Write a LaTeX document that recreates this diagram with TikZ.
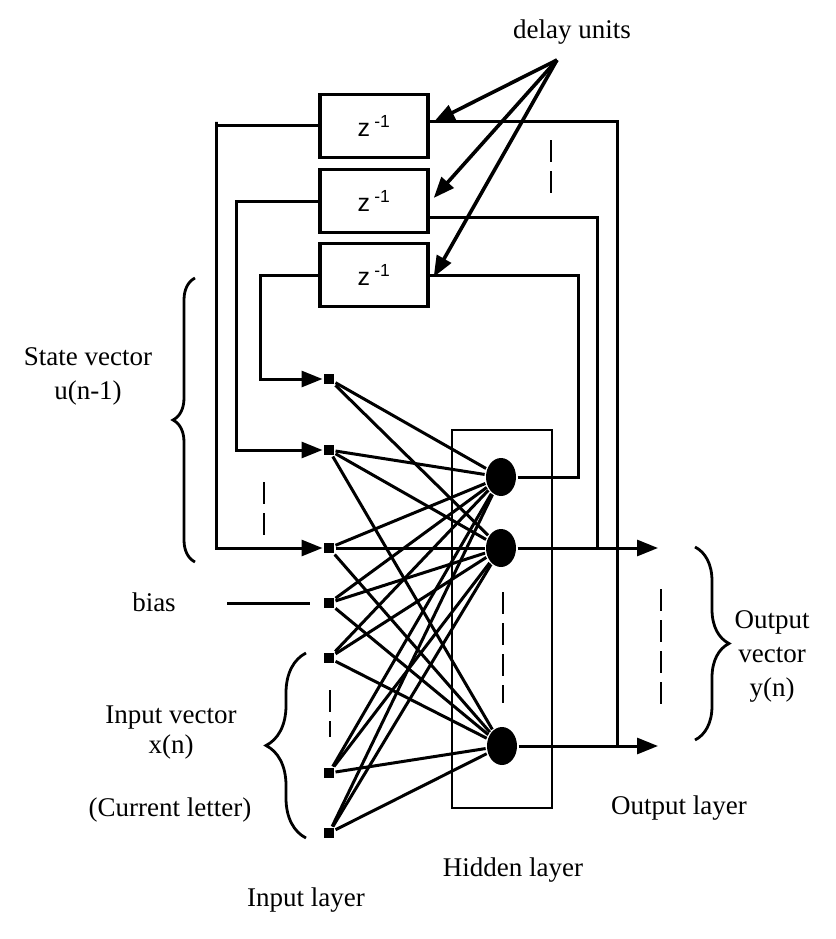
\documentclass[tikz,border=0pt]{standalone}
\usepackage{fontspec}
\setmainfont{Liberation Serif}
\setsansfont{Liberation Sans}
\usetikzlibrary{positioning,shapes.geometric,arrows.meta,decorations.pathreplacing}

\begin{document}
\begin{tikzpicture}[x=1pt,y=-1pt,line width=3pt,
  font=\fontsize{27}{34}\selectfont,
  delaybox/.style={draw,line width=3.4pt,minimum width=108pt,minimum height=63pt,
    inner sep=0pt,font=\sffamily\fontsize{25}{25}\selectfont},
  inp/.style={fill,rectangle,minimum size=10pt,inner sep=0pt},
  hid/.style={fill,ellipse,minimum width=30pt,minimum height=38pt,inner sep=0pt},
  arr/.style={-{Triangle[length=21pt,width=16pt]}},
  dashmark/.style={line width=2.4pt,dash pattern=on 22pt off 9pt},
  brc/.style={decorate,decoration={brace,amplitude=#1},line width=2.8pt}]
  \useasboundingbox (0,0) rectangle (835,939);

  \node[delaybox] (d1) at (374,126) {z\,\textsuperscript{-1}};
  \node[delaybox] (d2) at (374,201) {z\,\textsuperscript{-1}};
  \node[delaybox] (d3) at (374,275) {z\,\textsuperscript{-1}};

  \foreach \y [count=\i] in {379,450,548,603,658,773,833}
    \node[inp] (in\i) at (329,\y) {};
  \node[hid] (h1) at (501,477) {};
  \node[hid] (h2) at (501,548) {};
  \node[hid] (h3) at (502,746) {};
  \node[draw,line width=2.4pt,minimum width=100pt,minimum height=378pt] (hbox) at (502,619) {};

  \draw (in1) -- (h1);
  \draw (in1) -- (h2);
  \foreach \i in {2,...,7}
    \foreach \j in {1,2,3}
      \draw (in\i) -- (h\j);

  \node (du) at (572,32) {delay units};
  \coordinate (dl) at (557,60);
  \draw[arr,line width=3.6pt] (dl) -- ([xshift=4pt,yshift=4pt]d1.east);
  \draw[arr,line width=3.6pt] (dl) -- ([xshift=4pt,yshift=3pt]d2.east);
  \draw[arr,line width=3.6pt] (dl) -- ([xshift=4pt,yshift=-2pt]d3.east);

  \coordinate (o2) at (658,548);
  \coordinate (o3) at (658,746);
  \draw[arr] (h2) -- (o2);
  \draw[arr] (h3) -- (o3);

  \coordinate (c1) at (617,122);
  \coordinate (c2) at (597,217);
  \coordinate (c3) at (578,477);
  \draw (d1.east |- c1) -- (c1) -- (c1 |- o3);
  \draw (d2.east |- c2) -- (c2) -- (c2 |- o2);
  \draw (h1) -| (c3) |- (d3.east);

  \coordinate (s1) at (216,122);
  \coordinate (s2) at (236,450);
  \coordinate (s3) at (260,379);
  \draw[arr] (d1.west) -| (s1) |- (in3);
  \draw[arr] (d2.west) -| (s2) -- (in2);
  \draw[arr] (d3.west) -| (s3) -- (in1);

  \node (bi) at (154,602) {bias};
  \coordinate (bl) at (227,603);
  \draw[shorten >=13pt] (bl) -- (in4);

  \draw[dashmark] (551,140) -- (551,198);
  \draw[dashmark] (264,482) -- (264,537);
  \draw[dashmark] (503,592) -- (503,703);
  \draw[dashmark] (330,690) -- (330,737);
  \draw[dashmark] (661,589) -- (661,710);

  \draw[brc=22pt] (195,562) -- (195,278);
  \draw[brc=40pt] (306,838) -- (306,653);
  \draw[brc=34pt] (695,547) -- (695,740);

  \node[align=center] (sv) at (88,376) {State vector\\u(n-1)};
  \node[align=center] (iv) at (171,733) {Input vector\\[-4pt]x(n)};
  \node (cl) at (170,810) {(Current letter)};
  \node[align=center] (ov) at (772,656) {Output\\vector\\y(n)};
  \node (il) at (306,900) {Input layer};
  \node (hl) at (513,870) {Hidden layer};
  \node (ol) at (679,808) {Output layer};
\end{tikzpicture}
\end{document}
